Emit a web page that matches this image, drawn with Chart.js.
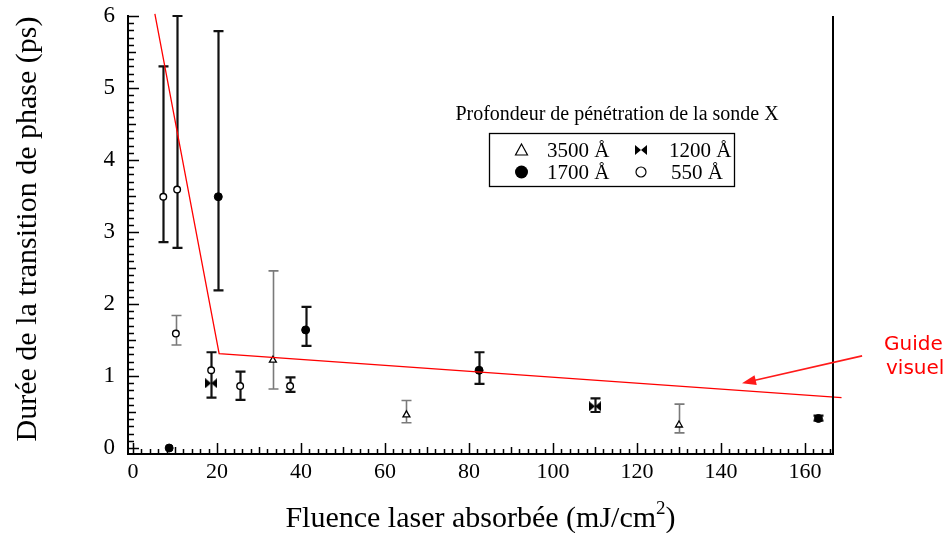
<!DOCTYPE html>
<html><head><meta charset="utf-8">
<script src="https://cdn.jsdelivr.net/npm/chart.js@4/dist/chart.umd.min.js"></script>
<style>html,body{margin:0;padding:0;background:#fff;}#wrap{width:949px;height:533px;}</style>
</head><body><div id="wrap"><canvas id="c" width="949" height="533"></canvas></div>
<script>
// ---------- data ----------
const xTicks = [0, 20, 40, 60, 80, 100, 120, 140, 160];
const yTicks = [0, 1, 2, 3, 4, 5, 6];
const xTitle = 'Fluence laser absorbée (mJ/cm';
const xTitleSup = '2';
const yTitle = 'Durée de la transition de phase (ps)';
const legendTitle = 'Profondeur de pénétration de la sonde X';
const seriesNames = ['3500 Å', '1200 Å', '1700 Å', '550 Å'];

const x3500 = [33.3, 65.1, 130.0];
const y3500 = [1.22, 0.46, 0.32];
const lo3500 = [0.82, 0.35, 0.21];
const hi3500 = [2.46, 0.66, 0.61];

const x1200 = [18.6, 110.0];
const y1200 = [0.90, 0.58];
const lo1200 = [null, 0.50];
const hi1200 = [null, 0.69];

const x1700 = [8.6, 20.3, 41.1, 82.4, 163.2];
const y1700 = [0.00, 3.49, 1.64, 1.08, 0.41];
const lo1700 = [null, 2.19, 1.42, 0.89, 0.38];
const hi1700 = [null, 5.79, 1.96, 1.33, 0.45];

const x550 = [7.2, 10.5, 10.2, 18.6, 25.5, 37.4];
const y550 = [3.49, 3.59, 1.59, 1.08, 0.86, 0.86];
const lo550 = [2.86, 2.78, 1.43, 0.70, 0.67, 0.78];
const hi550 = [5.30, 6.00, 1.84, 1.33, 1.06, 0.98];

const guideX = [5.2, 20.5, 168.7];
const guideY = [6.03, 1.31, 0.70];
const guideLabel = ['Guide', 'visuel'];
const arrowTail = [173.6, 1.28];
const arrowHead = [145.0, 0.90];

// ---------- styles ----------
const greyBars = { '3500 Å': [true, true, true], '550 Å': [false, false, true, false, false, false] };
const SERIF = '"Liberation Serif", "Times New Roman", serif';

function pts(xs, ys) { return xs.map((v, i) => ({ x: v, y: ys[i] })); }

// bowtie point style
const bow = document.createElement('canvas');
bow.width = 12; bow.height = 10;
(function () {
  const c = bow.getContext('2d');
  c.fillStyle = '#000';
  c.beginPath(); c.moveTo(0, 0); c.lineTo(6, 5); c.lineTo(0, 10); c.closePath(); c.fill();
  c.beginPath(); c.moveTo(12, 0); c.lineTo(6, 5); c.lineTo(12, 10); c.closePath(); c.fill();
})();

const errorBars = {
  id: 'errorBars',
  beforeDatasetsDraw(chart) {
    const { ctx, scales: { x, y } } = chart;
    chart.data.datasets.forEach(ds => {
      if (!ds.errLo) return;
      ds.data.forEach((p, j) => {
        if (ds.errLo[j] == null) return;
        const px = Math.round(x.getPixelForValue(p.x)) + 0.5;
        const pt = y.getPixelForValue(ds.errHi[j]);
        const pb = y.getPixelForValue(ds.errLo[j]);
        const grey = ds.errGrey && ds.errGrey[j];
        ctx.save();
        ctx.strokeStyle = grey ? '#7a7a7a' : '#111';
        ctx.lineWidth = grey ? 1.6 : 2.2;
        ctx.beginPath();
        ctx.moveTo(px, pt); ctx.lineTo(px, pb);
        ctx.moveTo(px - 5, pt); ctx.lineTo(px + 5, pt);
        ctx.moveTo(px - 5, pb); ctx.lineTo(px + 5, pb);
        ctx.stroke();
        ctx.restore();
      });
    });
  }
};

const deco = {
  id: 'deco',
  afterDraw(chart) {
    const { ctx, chartArea: a, scales: { x, y } } = chart;
    ctx.save();
    ctx.strokeStyle = '#000';
    // right frame line
    ctx.lineWidth = 2;
    ctx.beginPath(); ctx.moveTo(a.right, a.top); ctx.lineTo(a.right, a.bottom + 1); ctx.stroke();
    // inward ticks
    ctx.lineWidth = 1.5;
    ctx.beginPath();
    for (let k = 0; k * 2 <= x.max; k++) {
      const v = k * 2;
      const px = Math.round(x.getPixelForValue(v)) + 0.5;
      const len = v % 20 === 0 ? 11 : (v % 10 === 0 ? 7 : 5);
      ctx.moveTo(px, a.bottom); ctx.lineTo(px, a.bottom - len);
    }
    for (let k = 0; k <= 60; k++) {
      const py = Math.round(y.getPixelForValue(k / 10)) + 0.5;
      const len = k % 10 === 0 ? 11 : (k % 5 === 0 ? 8 : 6);
      ctx.moveTo(a.left, py); ctx.lineTo(a.left + len, py);
    }
    ctx.stroke();

    // axis titles
    ctx.fillStyle = '#000';
    ctx.font = '30px ' + SERIF;
    ctx.textBaseline = 'alphabetic';
    ctx.save();
    ctx.translate(36, (a.top + a.bottom) / 2 - 6);
    ctx.rotate(-Math.PI / 2);
    ctx.textAlign = 'center';
    ctx.fillText(yTitle, 0, 0);
    ctx.restore();

    ctx.font = '30px ' + SERIF;
    const w1 = ctx.measureText(xTitle).width;
    ctx.font = '19px ' + SERIF;
    const w2 = ctx.measureText(xTitleSup).width;
    ctx.font = '30px ' + SERIF;
    const w3 = ctx.measureText(')').width;
    let sx = (a.left + a.right) / 2 - (w1 + w2 + w3) / 2;
    const base = 527;
    ctx.textAlign = 'left';
    ctx.fillText(xTitle, sx, base);
    ctx.font = '19px ' + SERIF;
    ctx.fillText(xTitleSup, sx + w1, base - 13);
    ctx.font = '30px ' + SERIF;
    ctx.fillText(')', sx + w1 + w2, base);

    // legend
    ctx.font = '20px ' + SERIF;
    ctx.textAlign = 'center';
    ctx.fillText(legendTitle, 617, 120);
    ctx.lineWidth = 1.3;
    ctx.strokeRect(489.5, 133.5, 245, 53);
    ctx.textAlign = 'left';
    ctx.font = '21px ' + SERIF;
    ctx.fillText(seriesNames[0], 547, 157);
    ctx.fillText(seriesNames[1], 669, 157);
    ctx.fillText(seriesNames[2], 547, 179);
    ctx.fillText(seriesNames[3], 671, 179);
    // legend markers
    ctx.lineWidth = 1.2;
    ctx.beginPath(); ctx.moveTo(521.5, 144); ctx.lineTo(527.5, 155); ctx.lineTo(515.5, 155); ctx.closePath(); ctx.stroke();
    ctx.drawImage(bow, 635, 145);
    ctx.beginPath(); ctx.arc(521.5, 172, 6.5, 0, Math.PI * 2); ctx.fill();
    ctx.beginPath(); ctx.arc(641, 172, 5, 0, Math.PI * 2); ctx.stroke();

    // guide annotation
    const tx = x.getPixelForValue(arrowTail[0]), ty = y.getPixelForValue(arrowTail[1]);
    const hx = x.getPixelForValue(arrowHead[0]), hy = y.getPixelForValue(arrowHead[1]);
    const ang = Math.atan2(hy - ty, hx - tx);
    ctx.strokeStyle = '#ff1a1a'; ctx.fillStyle = '#ff1a1a';
    ctx.lineWidth = 1.6;
    ctx.beginPath(); ctx.moveTo(tx, ty); ctx.lineTo(hx - 10 * Math.cos(ang), hy - 10 * Math.sin(ang)); ctx.stroke();
    ctx.beginPath();
    ctx.moveTo(hx, hy);
    ctx.lineTo(hx - 14 * Math.cos(ang) + 5 * Math.sin(ang), hy - 14 * Math.sin(ang) - 5 * Math.cos(ang));
    ctx.lineTo(hx - 14 * Math.cos(ang) - 5 * Math.sin(ang), hy - 14 * Math.sin(ang) + 5 * Math.cos(ang));
    ctx.closePath(); ctx.fill();
    ctx.font = '20px "DejaVu Sans", sans-serif';
    ctx.fillStyle = '#ff0000';
    ctx.fillText(guideLabel[0], a.right + 51, 350);
    ctx.fillText(guideLabel[1], a.right + 53, 374);
    ctx.restore();
  }
};

new Chart(document.getElementById('c'), {
  type: 'scatter',
  data: {
    datasets: [
      { type: 'line', label: 'Guide visuel', data: pts(guideX, guideY), borderColor: '#ff0000', borderWidth: 1.3,
        pointRadius: 0, fill: false, tension: 0, clip: false },
      { label: seriesNames[0], data: pts(x3500, y3500), errLo: lo3500, errHi: hi3500, errGrey: greyBars['3500 Å'],
        pointStyle: 'triangle', pointRadius: 4, backgroundColor: '#fff', borderColor: '#000', borderWidth: 1.3 },
      { label: seriesNames[1], data: pts(x1200, y1200), errLo: lo1200, errHi: hi1200,
        pointStyle: bow, pointRadius: 5 },
      { label: seriesNames[2], data: pts(x1700, y1700), errLo: lo1700, errHi: hi1700,
        pointStyle: 'circle', pointRadius: 4, backgroundColor: '#000', borderColor: '#000', borderWidth: 1 },
      { label: seriesNames[3], data: pts(x550, y550), errLo: lo550, errHi: hi550, errGrey: greyBars['550 Å'],
        pointStyle: 'circle', pointRadius: 3.3, backgroundColor: '#fff', borderColor: '#000', borderWidth: 1.4 }
    ]
  },
  options: {
    responsive: false, animation: false, devicePixelRatio: 1,
    layout: { padding: { left: 0, right: 116, top: 16, bottom: 0 } },
    plugins: { legend: { display: false }, tooltip: { enabled: false } },
    scales: {
      x: {
        type: 'linear', min: -1.2, max: 166.67,
        afterBuildTicks(s) { s.ticks = xTicks.map(v => ({ value: v })); },
        afterFit(s) { s.height = 79; s.paddingLeft = 0; s.paddingRight = 0; },
        grid: { display: false, drawTicks: false },
        border: { display: true, color: '#000', width: 2 },
        ticks: { font: { family: SERIF, size: 22 }, color: '#000', padding: 5, maxRotation: 0, autoSkip: false }
      },
      y: {
        type: 'linear', min: -0.083, max: 6,
        afterBuildTicks(s) { s.ticks = yTicks.map(v => ({ value: v })); },
        afterFit(s) { s.width = 128; s.paddingTop = 0; s.paddingBottom = 0; },
        grid: { display: false, drawTicks: false },
        border: { display: true, color: '#000', width: 2 },
        ticks: { font: { family: SERIF, size: 23 }, color: '#000', padding: 13, autoSkip: false }
      }
    }
  },
  plugins: [errorBars, deco]
});
</script>
</body></html>
